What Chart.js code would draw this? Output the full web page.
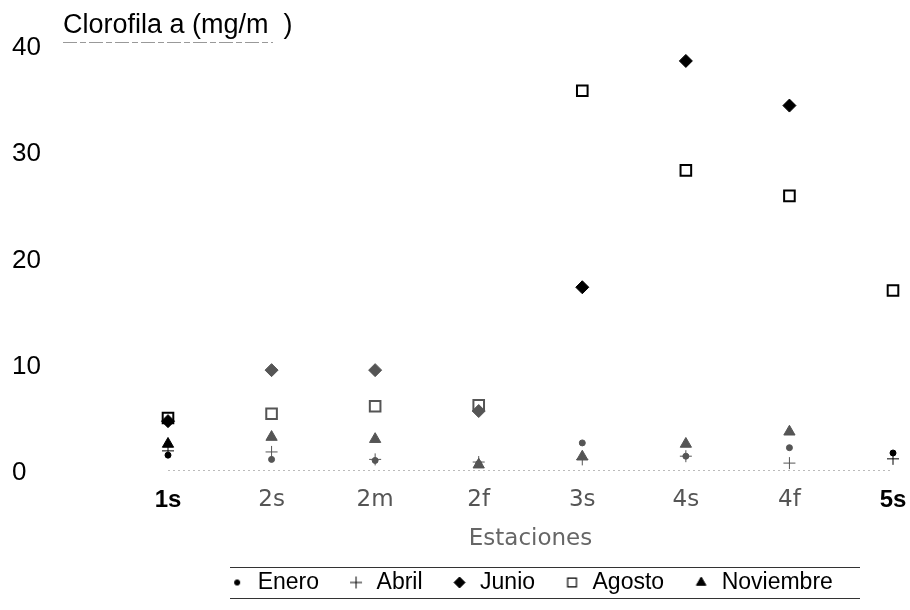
<!DOCTYPE html>
<html>
<head>
<meta charset="utf-8">
<script src="https://cdn.jsdelivr.net/npm/chart.js@4/dist/chart.umd.min.js"></script>
<style>
  html, body { margin: 0; padding: 0; background: #fff; }
  #wrap { width: 910px; height: 610px; position: relative; }
</style>
</head>
<body>
<div id="wrap"><canvas id="c" width="910" height="610"></canvas></div>
<script>
// ---- data ----
const stations = ['1s', '2s', '2m', '2f', '3s', '4s', '4f', '5s'];
const enero     = [1.4, 1.0, 0.9, 0.6, 2.55, 1.3, 2.1, 1.6];
const abril     = [1.8, 1.7, 1.0, 0.75, 1.0, 1.3, 0.65, 1.05];
const junio     = [4.6, 9.4, 9.4, 5.55, 17.2, 38.5, 34.3, null];
const agosto    = [4.9, 5.3, 6.0, 6.1, 35.7, 28.2, 25.8, 16.9];
const noviembre = [2.45, 3.1, 2.9, 0.5, 1.25, 2.45, 3.6, null];
const yTicks = [0, 10, 20, 30, 40];
const yTitle = 'Clorofila a (mg/m  )';
const xTitle = 'Estaciones';

const ARIAL = "'Liberation Sans', Arial, sans-serif";
const WIDE = "'DejaVu Sans', sans-serif";

// scanned look: outer stations and large values in black, the rest in dark grey
function markColor(ctx) {
  const i = ctx.dataIndex;
  const v = ctx.raw;
  if (i === 0 || i === stations.length - 1 || (v !== null && v >= 10)) return '#000';
  return '#555';
}

function ds(label, data, style, radius, filled, bw) {
  return {
    label, data,
    showLine: false,
    pointStyle: style,
    pointRadius: radius,
    pointHoverRadius: radius,
    pointBorderWidth: bw,
    pointBorderColor: markColor,
    pointBackgroundColor: filled ? markColor : 'rgba(0,0,0,0)',
    backgroundColor: filled ? '#000' : 'rgba(0,0,0,0)',
    borderColor: '#000',
    borderWidth: bw,
    clip: false
  };
}

// small legend symbols drawn with the library's own point renderer
function legendIcon(style, radius, filled, lw) {
  const cv = document.createElement('canvas');
  const s = Math.ceil(radius * 2 + 4);
  cv.width = s; cv.height = s;
  const c = cv.getContext('2d');
  c.fillStyle = filled ? '#000' : 'rgba(0,0,0,0)';
  c.strokeStyle = '#000';
  c.lineWidth = lw;
  if (Chart.helpers && Chart.helpers.drawPoint) {
    Chart.helpers.drawPoint(c, { pointStyle: style, radius: radius, rotation: 0, borderWidth: lw }, s / 2, s / 2);
  }
  return cv;
}
const legendIcons = [
  legendIcon('circle', 2.6, true, 1),
  legendIcon('cross', 6, false, 1),
  legendIcon('rectRot', 5.5, true, 1),
  legendIcon('rect', 6.2, false, 1.2),
  legendIcon('triangle', 5.5, true, 1)
];

const decor = {
  id: 'decor',
  afterDraw(chart) {
    const c = chart.ctx;
    c.save();
    // y-axis title (horizontal, top-left) with dashed underline
    c.font = '27px ' + ARIAL;
    c.fillStyle = '#000';
    c.textBaseline = 'alphabetic';
    c.textAlign = 'left';
    c.fillText(yTitle, 63, 33);
    c.strokeStyle = '#999';
    c.lineWidth = 1;
    c.setLineDash([14, 3, 6, 3]);
    c.beginPath(); c.moveTo(63, 42.5); c.lineTo(273, 42.5); c.stroke();
    c.setLineDash([]);
    // rules above and below the legend
    c.strokeStyle = '#333';
    c.beginPath(); c.moveTo(230, 567.5); c.lineTo(860, 567.5); c.stroke();
    c.beginPath(); c.moveTo(230, 598.5); c.lineTo(860, 598.5); c.stroke();
    c.restore();
  }
};

new Chart(document.getElementById('c'), {
  type: 'line',
  data: {
    labels: stations,
    datasets: [
      ds('Enero', enero, 'circle', 3, true, 1),
      ds('Abril', abril, 'cross', 6, false, 1),
      ds('Junio', junio, 'rectRot', 6.5, true, 1),
      ds('Agosto', agosto, 'rect', 7.5, false, 2),
      ds('Noviembre', noviembre, 'triangle', 6.5, true, 1)
    ]
  },
  options: {
    responsive: false,
    animation: false,
    events: [],
    layout: { padding: { left: 12, right: 17, top: 45, bottom: 6 } },
    plugins: {
      title: { display: false },
      tooltip: { enabled: false },
      legend: {
        display: true,
        position: 'bottom',
        fullSize: false,
        labels: {
          usePointStyle: true,
          boxWidth: 18,
          boxHeight: 18,
          padding: 28,
          color: '#000',
          font: { family: ARIAL, size: 23 },
          generateLabels(chart) {
            const base = Chart.defaults.plugins.legend.labels.generateLabels(chart);
            return base.map((l, i) => Object.assign(l, { pointStyle: legendIcons[i] }));
          }
        }
      }
    },
    scales: {
      x: {
        type: 'category',
        offset: false,
        grid: { display: false, drawTicks: false },
        border: { display: false },
        ticks: {
          padding: 16,
          autoSkip: false,
          maxRotation: 0,
          color: (ctx) => (ctx.index === 0 || ctx.index === stations.length - 1) ? '#000' : '#555',
          font: (ctx) => (ctx.index === 0 || ctx.index === stations.length - 1)
            ? { family: ARIAL, size: 24, weight: 'bold' }
            : { family: WIDE, size: 23, weight: 'normal' }
        },
        title: {
          display: true,
          text: xTitle,
          color: '#666',
          font: { family: WIDE, size: 23 },
          padding: { top: -10, bottom: -10 }
        },
        afterFit(scale) {
          scale.height = 73;
          scale.paddingLeft = 0;
          scale.paddingRight = 0;
        }
      },
      y: {
        min: 0,
        max: 40,
        afterBuildTicks(scale) { scale.ticks = yTicks.map(v => ({ value: v })); },
        grid: {
          drawTicks: false,
          color: (ctx) => (ctx.tick && ctx.tick.value === 0) ? '#bbb' : 'rgba(0,0,0,0)',
          lineWidth: 1
        },
        border: { display: false, dash: [2, 3] },
        ticks: {
          crossAlign: 'far',
          color: '#000',
          font: { family: ARIAL, size: 26 },
          padding: 0,
          labelOffset: 3
        },
        afterFit(scale) { scale.width = 156; }
      }
    }
  },
  plugins: [decor]
});
</script>
</body>
</html>
